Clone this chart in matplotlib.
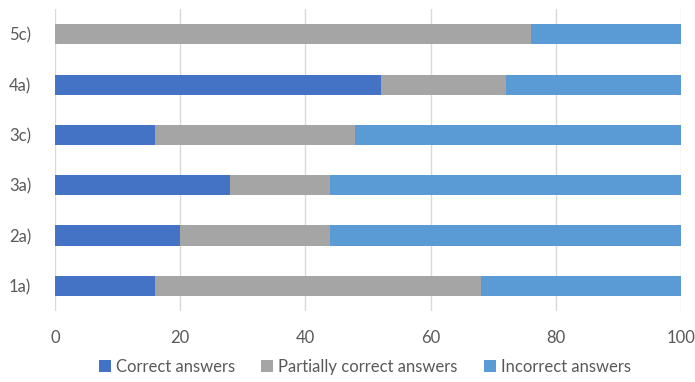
import matplotlib.pyplot as plt

categories = ["1a)", "2a)", "3a)", "3c)", "4a)", "5c)"]
correct = [16, 20, 28, 16, 52, 0]
partial = [52, 24, 16, 32, 20, 76]
incorrect = [32, 56, 56, 52, 28, 24]
series_names = ["Correct answers", "Partially correct answers", "Incorrect answers"]
colors = ["#4472C4", "#A5A5A5", "#5B9BD5"]
text_color = "#595959"

plt.rcParams["font.family"] = ["Lato", "DejaVu Sans"]

fig = plt.figure(figsize=(6.95, 3.82), dpi=100)
ax = fig.add_axes([0.079, 0.186, 0.901, 0.79])

left = [0] * len(categories)
for vals, name, col in zip([correct, partial, incorrect], series_names, colors):
    ax.barh(categories, vals, left=left, height=0.4, color=col, label=name)
    left = [l + v for l, v in zip(left, vals)]

ax.set_xlim(0, 100)
ax.set_ylim(-0.5, 5.5)
ax.set_xticks(range(0, 101, 20))
ax.grid(axis="x", color="#D9D9D9", linewidth=1)
ax.set_axisbelow(True)
for s in ax.spines.values():
    s.set_visible(False)
ax.tick_params(length=0, labelsize=12, colors=text_color)
ax.tick_params(axis="y", pad=17)
ax.tick_params(axis="x", pad=14)

fig.legend(loc="lower center", ncol=3, frameon=False, fontsize=12,
           handlelength=0.7, handleheight=0.7, handletextpad=0.3,
           columnspacing=1.6, labelcolor=text_color,
           bbox_to_anchor=(0.525, -0.02))

fig.savefig("out.png", dpi=100)
